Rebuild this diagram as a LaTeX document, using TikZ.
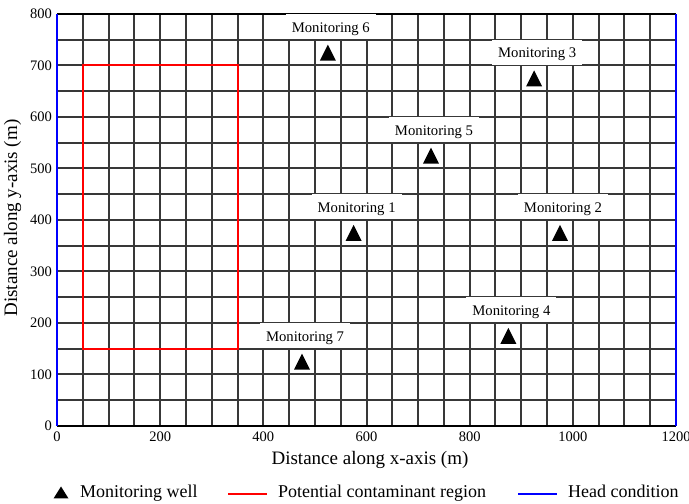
\documentclass[tikz,border=0pt]{standalone}
\usepackage{fontspec}
\setmainfont{Liberation Serif}
\begin{document}
\begin{tikzpicture}[x=1pt,y=1pt,
  gridline/.style={draw=black!78, line width=2pt},
  frameline/.style={draw=black, line width=2.4pt},
  headline/.style={draw=blue, line width=2pt},
  zoneline/.style={draw=red, line width=2pt},
  ticklabel/.style={font=\fontsize{14.5}{16}\selectfont, inner sep=0pt},
  welllabel/.style={fill=white, inner sep=0pt, minimum width=90pt, minimum height=25pt,
    text height=11pt, text depth=0pt,
    font=\fontsize{14.7}{16}\selectfont, xshift=3pt, yshift=26pt},
  welltri/.style={fill=black},
  axistitle/.style={font=\fontsize{19}{21}\selectfont, inner sep=0pt},
  legendtext/.style={font=\fontsize{18}{20}\selectfont, inner sep=0pt, anchor=base west}]
\useasboundingbox (0,0) rectangle (689,504);

% 50 m grid cells, snapped to whole points (domain 57..676 x 78..490)
\foreach \i in {1,...,23} {
  \pgfmathsetmacro\px{round(57+\i*619/24)}
  \draw[gridline] (\px,78) -- (\px,490);
}
\foreach \j in {1,...,15} {
  \pgfmathsetmacro\py{round(78+\j*412/16)}
  \draw[gridline] (57,\py) -- (676,\py);
}

% potential contaminant source zone (x 50..350 m, y 150..700 m)
\coordinate (zsw) at (83,155);
\coordinate (zse) at (238,155);
\coordinate (zne) at (238,439);
\coordinate (znw) at (83,439);
\draw[zoneline] (zsw) -- (zse) -- (zne) -- (znw) -- cycle;

% boundaries: no-flow top and bottom, fixed head left and right
\coordinate (dsw) at (57,78);
\coordinate (dse) at (676,78);
\coordinate (dne) at (676,490);
\coordinate (dnw) at (57,490);
\draw[frameline] (dnw) -- (dne);
\draw[frameline] (dsw) -- (dse);
\draw[headline] (dsw) -- (dnw);
\draw[headline] (dse) -- (dne);

% data coordinates in metres
\begin{scope}[shift={(57,78)}, x=0.515833pt, y=0.515pt]
  % tick labels
  \foreach \tx in {0,200,...,1200}
    \node[ticklabel, anchor=base] (tx\tx) at (\tx,0) [yshift=-15.5pt] {\tx};
  \foreach \ty in {0,100,...,800}
    \node[ticklabel, anchor=east] (ty\ty) at (0,\ty) [xshift=-5pt] {\ty};

  % monitoring wells
  \foreach \n/\wx/\wy in {1/575/375, 2/975/375, 3/925/675, 4/875/175,
                           5/725/525, 6/525/725, 7/475/125} {
    \coordinate (w\n) at (\wx,\wy);
    \node[welllabel] (l\n) at (w\n) {Monitoring \n};
    \fill[welltri] (w\n) ++(-8pt,-8pt) -- ++(16pt,0pt) -- ++(-8pt,16pt) -- cycle;
  }
\end{scope}

% axis titles
\node[axistitle, anchor=base] (xtitle) at (370,39) {Distance along x-axis (m)};
\node[axistitle, anchor=base, rotate=90] (ytitle) at (17,286) {Distance along y-axis (m)};

% legend
\coordinate (lgtri) at (61,11.5);
\fill[welltri] (lgtri) ++(-7.5pt,-6pt) -- ++(15pt,0pt) -- ++(-7.5pt,12pt) -- cycle;
\node[legendtext] (lgwell) at (80,6) {Monitoring well};
\coordinate (lgred1) at (228,10);
\coordinate (lgred2) at (267,10);
\draw[zoneline] (lgred1) -- (lgred2);
\node[legendtext] (lgzone) at (278,6) {Potential contaminant region};
\coordinate (lgblue1) at (518,10);
\coordinate (lgblue2) at (557,10);
\draw[headline] (lgblue1) -- (lgblue2);
\node[legendtext] (lghead) at (568,6) {Head condition};
\end{tikzpicture}
\end{document}
